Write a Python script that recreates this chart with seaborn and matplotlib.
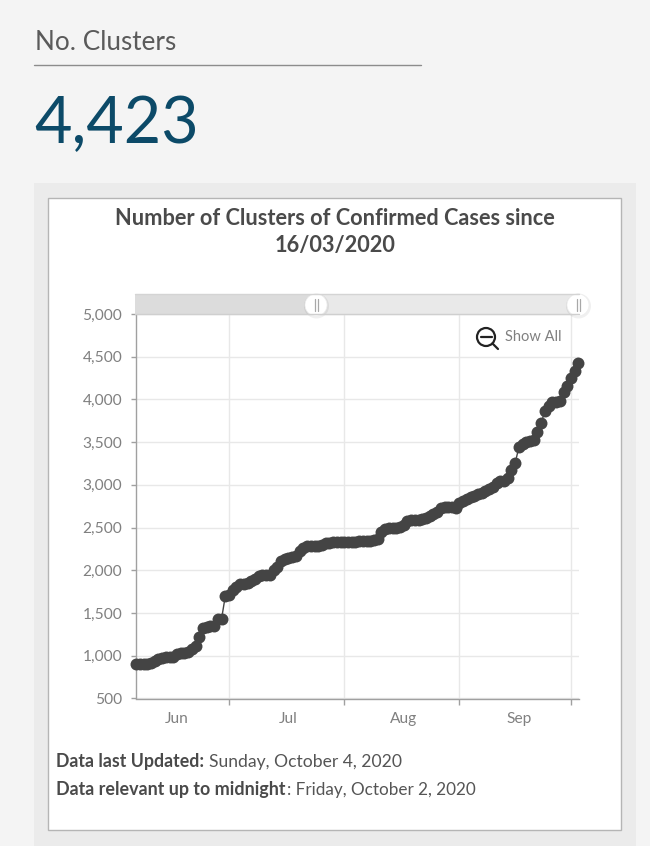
import matplotlib
matplotlib.use('Agg')
import matplotlib.pyplot as plt
import matplotlib.dates as mdates
from matplotlib.patches import Rectangle, Circle
import numpy as np
import pandas as pd
import seaborn as sns

header = 'No. Clusters'
big_number = '4,423'
title = 'Number of Clusters of Confirmed Cases since\n16/03/2020'
y_ticks = [500, 1000, 1500, 2000, 2500, 3000, 3500, 4000, 4500, 5000]
month_ticks = ['2020-07-01', '2020-08-01', '2020-09-01', '2020-10-01']
month_labels = ['Jun', 'Jul', 'Aug', 'Sep']
month_label_pos = ['2020-06-17', '2020-07-17', '2020-08-17', '2020-09-17']

# daily values, 6 Jun to 3 Oct
clusters = [900, 900, 900, 905, 915, 940, 960, 970, 980, 985,
            990, 1015, 1030, 1035, 1050, 1080, 1110, 1220, 1320, 1340,
            1345, 1350, 1430, 1435, 1700, 1710, 1770, 1810, 1835, 1840,
            1850, 1880, 1900, 1930, 1940, 1945, 1950, 2000, 2040, 2110,
            2130, 2150, 2155, 2170, 2230, 2260, 2280, 2285, 2290, 2290,
            2300, 2315, 2320, 2330, 2330, 2335, 2335, 2335, 2335, 2335,
            2340, 2340, 2340, 2345, 2360, 2370, 2450, 2480, 2490, 2490,
            2500, 2510, 2530, 2580, 2585, 2590, 2590, 2595, 2610, 2640,
            2660, 2680, 2730, 2740, 2745, 2745, 2730, 2790, 2810, 2840,
            2860, 2875, 2890, 2900, 2925, 2950, 2980, 3020, 3040, 3050,
            3075, 3170, 3260, 3440, 3480, 3500, 3510, 3530, 3620, 3730,
            3860, 3920, 3965, 3970, 3980, 4090, 4160, 4250, 4330, 4423]

df = pd.DataFrame({'date': pd.date_range('2020-06-06', periods=len(clusters)), 'clusters': clusters})

sns.set_theme(style='white')
plt.rcParams['font.family'] = ['Lato', 'DejaVu Sans']

W, H = 650, 846
fig = plt.figure(figsize=(W / 100, H / 100), dpi=100, facecolor='#f4f4f4')

# page furniture, drawn in pixel coords
bg = fig.add_axes([0, 0, 1, 1], zorder=0)
bg.set_xlim(0, W)
bg.set_ylim(H, 0)
bg.axis('off')
bg.add_patch(Rectangle((34, 183), 602, 663, fc='#ebebeb', ec='none'))
bg.add_patch(Rectangle((48, 198), 573, 632, fc='white', ec='#b5b5b5', lw=1))
bg.plot([34, 421], [65.5, 65.5], color='#8c8c8c', lw=1)
bg.text(35, 43, header, fontsize=18.8, color='#5a5a5a', va='center')
bg.text(34, 125, big_number, fontsize=46.5, color='#0c4a68', va='center')
bg.text(335, 232, title, fontsize=15.7, fontweight='bold', color='#4a4a4a', ha='center', va='center', linespacing=1.35)
bg.text(56, 762, 'Data last Updated:', fontsize=12.8, fontweight='bold', color='#4a4a4a', va='center')
bg.text(209, 762, 'Sunday, October 4, 2020', fontsize=12.6, color='#555555', va='center')
bg.text(56, 790, 'Data relevant up to midnight', fontsize=12.9, fontweight='bold', color='#4a4a4a', va='center')
bg.text(287, 790, ': Friday, October 2, 2020', fontsize=12.35, color='#555555', va='center')

ax = fig.add_axes([135.5 / W, 1 - 698.5 / H, (579 - 135.5) / W, (698.5 - 314) / H], zorder=1)
ax.patch.set_alpha(0)

sns.lineplot(data=df, x='date', y='clusters', ax=ax, color='#444444', lw=1, marker='o',
             markersize=8.6, markeredgewidth=0, zorder=5, clip_on=False)

ax.set_xlim(pd.Timestamp('2020-06-05 20:00'), pd.Timestamp('2020-10-03 04:00'))
ax.set_ylim(500, 5000)
ax.set_yticks(y_ticks)
ax.set_yticklabels([f'{v:,}' for v in y_ticks])
ax.set_xticks(pd.to_datetime(month_ticks))
ax.set_xticklabels([])
ax.set_xlabel('')
ax.set_ylabel('')
ax.grid(True, color='#e8e8e8', lw=1)
ax.set_axisbelow(True)
for s in ['top', 'right']:
    ax.spines[s].set_visible(False)
for s in ['left', 'bottom']:
    ax.spines[s].set_color('#a0a0a0')
    ax.spines[s].set_linewidth(1)
ax.tick_params(axis='y', left=True, length=3.6, width=1, color='#a0a0a0', labelcolor='#808080', labelsize=11.2, pad=6)
ax.tick_params(axis='x', bottom=True, length=4.5, width=1, color='#a0a0a0')

for lab, pos in zip(month_labels, month_label_pos):
    ax.annotate(lab, (mdates.date2num(pd.Timestamp(pos)), 0), xycoords=('data', 'axes fraction'),
                xytext=(0, -14.5), textcoords='offset points', ha='center', va='center',
                fontsize=11.2, color='#808080')

# range slider and Show All button sit on top of the plot
top = fig.add_axes([0, 0, 1, 1], zorder=2)
top.set_xlim(0, W)
top.set_ylim(H, 0)
top.axis('off')
top.patch.set_alpha(0)
top.add_patch(Rectangle((135, 294), 444, 20, fc='#e9e9e9', ec='none'))
top.add_patch(Rectangle((135, 294), 181, 20, fc='#dcdcdc', ec='none'))
top.plot([135, 579], [294, 294], color='#d4d4d4', lw=1)
top.plot([135, 579], [314, 314], color='#cfcfcf', lw=1)
for cx in [316, 578]:
    top.add_patch(Circle((cx + 0.5, 306), 12.5, fc='#000000', alpha=0.06, ec='none'))
    top.add_patch(Circle((cx, 305), 11, fc='white', ec='#eeeeee', lw=0.5))
    top.plot([cx - 1.5, cx - 1.5], [299, 311], color='#a8a8a8', lw=0.9)
    top.plot([cx + 1.5, cx + 1.5], [299, 311], color='#a8a8a8', lw=0.9)
top.add_patch(Circle((486, 337), 9, fc='white', ec='#222222', lw=1.6))
top.plot([480.5, 491.5], [337, 337], color='#222222', lw=1.6)
top.plot([492.5, 498], [343.5, 349], color='#222222', lw=1.6)
top.text(505, 337, 'Show All', fontsize=10.5, color='#808080', va='center')

fig.savefig('out.png', dpi=100, facecolor=fig.get_facecolor())
